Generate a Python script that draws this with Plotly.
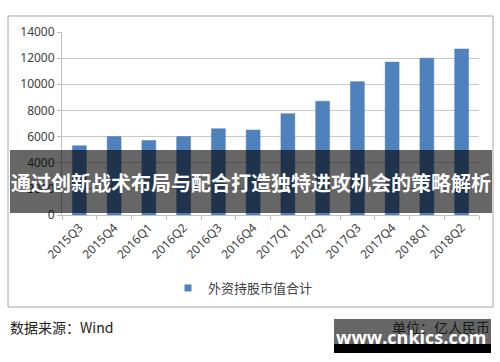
import plotly.graph_objects as go

quarters = ["2015Q3", "2015Q4", "2016Q1", "2016Q2", "2016Q3", "2016Q4",
            "2017Q1", "2017Q2", "2017Q3", "2017Q4", "2018Q1", "2018Q2"]
values = [5300, 6000, 5700, 6000, 6600, 6500, 7750, 8700, 10200, 11700, 12000, 12700]
y_ticks = [0, 2000, 4000, 6000, 8000, 10000, 12000, 14000]
series_name = "外资持股市值合计"
banner_text = "通过创新战术布局与配合打造独特进攻机会的策略解析"
source_text = "数据来源：Wind"
unit_text = "单位：亿人民币"
watermark_text = "www.cnkics.com"

W, H = 500, 362
L, R, T, B = 62, 21, 32, 147
PW, PH = W - L - R, H - T - B
BAR_COLOR = "#4f81bd"


def px(x):
    return (x - L) / PW


def py(y):
    return (H - B - y) / PH


CJK = "Noto Sans CJK SC"
NUM = "Noto Sans"

fig = go.Figure()
fig.add_trace(go.Bar(
    x=quarters, y=values, name=series_name,
    marker=dict(color=BAR_COLOR, line=dict(color="#4a7ebb", width=0.5)),
    showlegend=False,
))
# legend entry with a small square key, as in the reference
fig.add_trace(go.Scatter(
    x=[None], y=[None], mode="markers", name=series_name,
    marker=dict(symbol="square", size=7, color=BAR_COLOR),
    showlegend=True, hoverinfo="skip",
))

fig.update_layout(
    width=W, height=H,
    margin=dict(l=L, r=R, t=T, b=B),
    paper_bgcolor="white", plot_bgcolor="white",
    bargap=0.6,
    showlegend=True,
    legend=dict(orientation="h", x=px(168), xanchor="left", y=py(288), yanchor="middle",
                font=dict(family=CJK, size=13, color="#404040"),
                itemwidth=30,
                bgcolor="rgba(0,0,0,0)"),
    xaxis=dict(
        type="category", tickangle=-45, tickson="boundaries",
        ticks="outside", ticklen=4, tickcolor="#bfbfbf",
        showline=True, linecolor="#bfbfbf", linewidth=1,
        showgrid=False,
        tickfont=dict(family=NUM, size=12, color="#404040"),
    ),
    yaxis=dict(
        range=[0, 14000], tickvals=y_ticks, tickformat="d",
        ticks="outside", ticklen=4, tickcolor="#bfbfbf",
        showline=True, linecolor="#bfbfbf", linewidth=1,
        showgrid=True, gridcolor="#c8c8c8", gridwidth=1,
        zeroline=False,
        tickfont=dict(family=NUM, size=12, color="#404040"),
    ),
)

shapes = [
    dict(type="rect", xref="paper", yref="paper",
         x0=px(8), x1=px(493), y0=py(16), y1=py(307),
         line=dict(color="#a6a6a6", width=1), fillcolor="rgba(0,0,0,0)", layer="below"),
    dict(type="rect", xref="paper", yref="paper",
         x0=px(10), x1=px(492), y0=py(150), y1=py(213),
         line=dict(width=0), fillcolor="rgba(0,0,0,0.6)", layer="above"),
    dict(type="rect", xref="paper", yref="paper",
         x0=px(334), x1=px(491), y0=py(319), y1=py(344),
         line=dict(width=0), fillcolor="rgba(0,0,0,0.6)", layer="above"),
    dict(type="rect", xref="paper", yref="paper",
         x0=px(334), x1=px(491), y0=py(344), y1=py(353),
         line=dict(width=0), fillcolor="black", layer="above"),
]
fig.update_layout(shapes=shapes)

annotations = [
    dict(text=banner_text, xref="paper", yref="paper", x=px(251), y=py(182),
         xanchor="center", yanchor="middle", showarrow=False,
         font=dict(family=CJK, size=20, color="white", weight="bold")),
    dict(text=source_text, xref="paper", yref="paper", x=px(8), y=py(327),
         xanchor="left", yanchor="middle", showarrow=False,
         font=dict(family=CJK, size=14, color="#222222")),
    dict(text=unit_text, xref="paper", yref="paper", x=px(492), y=py(327),
         xanchor="right", yanchor="middle", showarrow=False,
         font=dict(family=CJK, size=14, color="#1a1a1a")),
    dict(text=watermark_text, xref="paper", yref="paper", x=px(411), y=py(337),
         xanchor="center", yanchor="middle", showarrow=False,
         font=dict(family="Open Sans", size=18, color="white", weight="bold")),
]
fig.update_layout(annotations=annotations)

fig.write_html("out.html", config={"displayModeBar": False},
               post_script="document.body.style.margin='0px';document.body.style.overflow='hidden';")
